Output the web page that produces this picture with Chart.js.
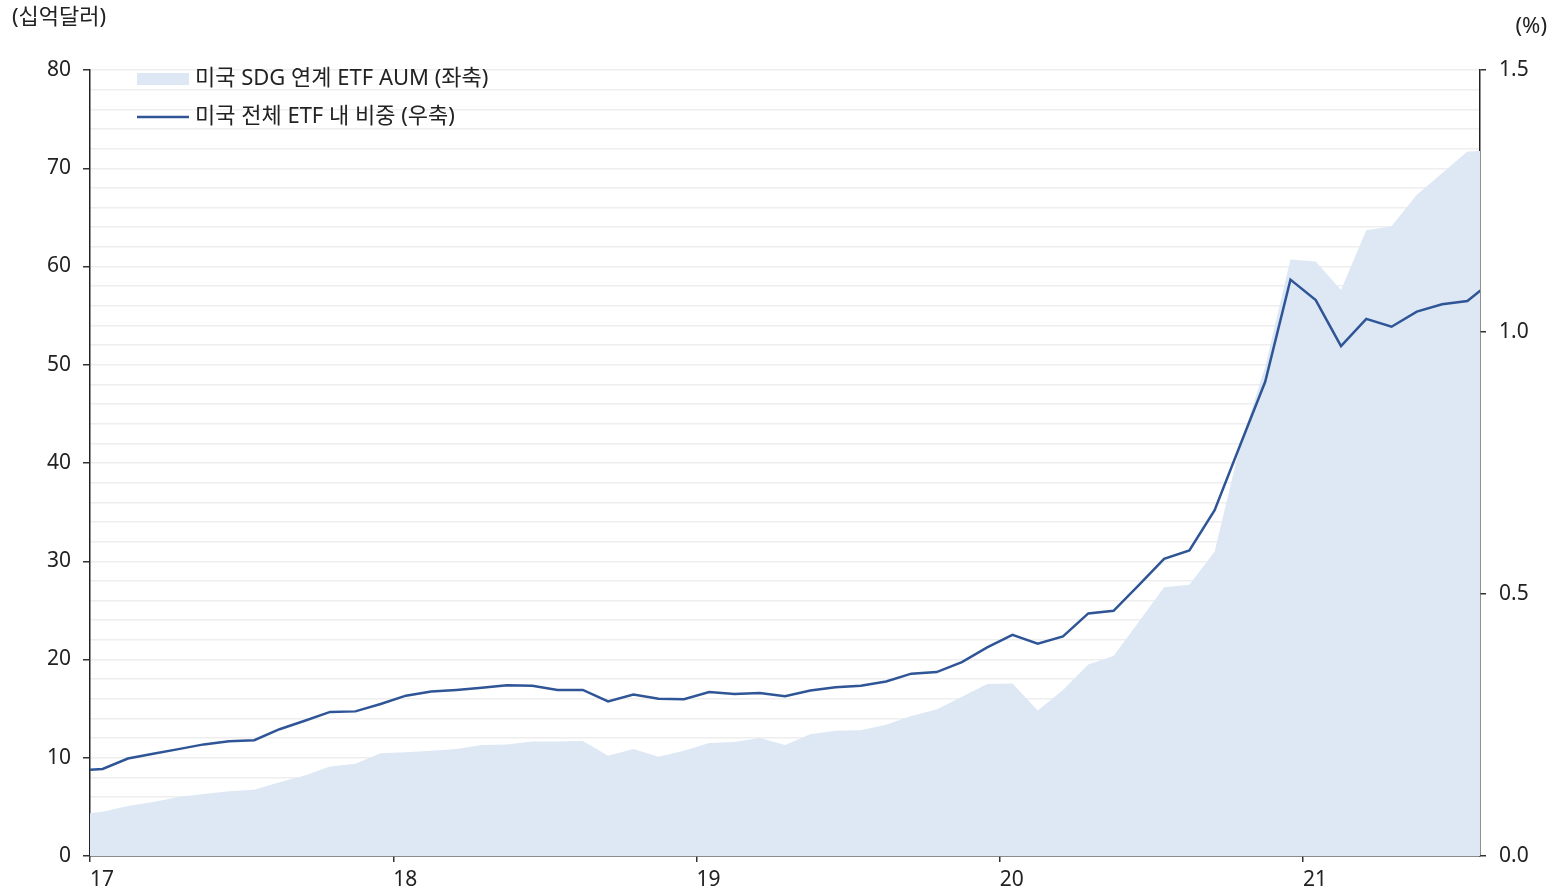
<!DOCTYPE html>
<html>
<head>
<meta charset="utf-8">
<script src="https://cdn.jsdelivr.net/npm/chart.js@4"></script>
<style>
  html, body { margin: 0; padding: 0; background: #fff; }
  #wrap { width: 1557px; height: 896px; }
</style>
</head>
<body>
<div id="wrap"><canvas id="etfChart" width="1557" height="896"></canvas></div>
<script>
// monthly observations (Dec 2016 and Aug 2021 sit just outside the visible axis)
const months = [
  '2016-12',
  '2017-01', '2017-02', '2017-03', '2017-04', '2017-05', '2017-06', '2017-07', '2017-08', '2017-09', '2017-10', '2017-11', '2017-12',
  '2018-01', '2018-02', '2018-03', '2018-04', '2018-05', '2018-06', '2018-07', '2018-08', '2018-09', '2018-10', '2018-11', '2018-12',
  '2019-01', '2019-02', '2019-03', '2019-04', '2019-05', '2019-06', '2019-07', '2019-08', '2019-09', '2019-10', '2019-11', '2019-12',
  '2020-01', '2020-02', '2020-03', '2020-04', '2020-05', '2020-06', '2020-07', '2020-08', '2020-09', '2020-10', '2020-11', '2020-12',
  '2021-01', '2021-02', '2021-03', '2021-04', '2021-05', '2021-06', '2021-07', '2021-08'
];

// 미국 SDG 연계 ETF AUM, 십억달러
const sdgAum = [
  4.2,
  4.5, 5.1, 5.5, 6.0, 6.3, 6.6, 6.75, 7.5, 8.2, 9.1, 9.4, 10.45,
  10.55, 10.7, 10.9, 11.3, 11.35, 11.65, 11.65, 11.7, 10.2, 10.9, 10.1, 10.7,
  11.5, 11.6, 12.0, 11.3, 12.4, 12.75, 12.8, 13.35, 14.25, 14.9, 16.2, 17.5,
  17.55, 14.8, 16.9, 19.5, 20.35, 23.85, 27.35, 27.6, 31.0, 41.7, 49.8, 60.7,
  60.5, 57.6, 63.7, 64.1, 67.3, 69.5, 71.7, 71.8
];

// 미국 전체 ETF 내 비중, %
const sdgShare = [
  0.163,
  0.166, 0.186, 0.195, 0.204, 0.213, 0.219, 0.221, 0.242, 0.258, 0.275, 0.276, 0.290,
  0.306, 0.314, 0.317, 0.321, 0.326, 0.325, 0.317, 0.317, 0.295, 0.308, 0.300, 0.299,
  0.313, 0.309, 0.311, 0.305, 0.316, 0.322, 0.325, 0.333, 0.348, 0.351, 0.370, 0.398,
  0.422, 0.405, 0.419, 0.463, 0.468, 0.517, 0.567, 0.583, 0.660, 0.783, 0.905, 1.100,
  1.061, 0.973, 1.025, 1.010, 1.039, 1.053, 1.059, 1.098
];

const yearLabels = ['17', '18', '19', '20', '21'];
const leftTicks = [0, 10, 20, 30, 40, 50, 60, 70, 80];
const rightTicks = [0.0, 0.5, 1.0, 1.5];

const seriesNames = ['미국 SDG 연계 ETF AUM (좌축)', '미국 전체 ETF 내 비중 (우축)'];
const leftUnit = '(십억달러)';
const rightUnit = '(%)';

const FONT = "'Noto Sans', 'Noto Sans CJK KR', sans-serif";
const TEXT = '#222222';
const LINE_BLUE = '#2f5597';
const AREA_BLUE = '#dde8f4';

// months since Jan 2017, each point sits in the middle of its month
function monthPos(m) {
    const [y, mo] = m.split('-').map(Number);
    return (y - 2017) * 12 + (mo - 1) + 0.5;
}

const aumPoints = months.map((m, i) => ({x: monthPos(m), y: sdgAum[i]}));
const sharePoints = months.map((m, i) => ({x: monthPos(m), y: sdgShare[i]}));

const cornerLegend = {
    id: 'cornerLegend',
    afterDraw(chart) {
        const ctx = chart.ctx;
        ctx.save();
        ctx.font = '22px ' + FONT;
        ctx.fillStyle = TEXT;
        ctx.textBaseline = 'middle';
        ctx.textAlign = 'left';

        // area sample
        ctx.fillStyle = AREA_BLUE;
        ctx.fillRect(137, 73, 52, 12);
        ctx.fillStyle = TEXT;
        ctx.fillText(chart.data.datasets[0].label, 195, 79);

        // line sample
        ctx.beginPath();
        ctx.moveTo(137, 117);
        ctx.lineTo(189, 117);
        ctx.strokeStyle = LINE_BLUE;
        ctx.lineWidth = 2.5;
        ctx.stroke();
        ctx.fillText(chart.data.datasets[1].label, 195, 117);

        // axis units
        ctx.font = '22px ' + FONT;
        ctx.fillText(leftUnit, 12, 18);
        ctx.textAlign = 'right';
        ctx.fillText(rightUnit, 1547, 27);
        ctx.restore();
    }
};

new Chart(document.getElementById('etfChart'), {
    type: 'line',
    data: {
        datasets: [
            {
                label: seriesNames[0],
                data: aumPoints,
                yAxisID: 'y',
                fill: 'origin',
                backgroundColor: AREA_BLUE,
                borderWidth: 0,
                pointRadius: 0,
                tension: 0,
                order: 1
            },
            {
                label: seriesNames[1],
                data: sharePoints,
                yAxisID: 'y1',
                fill: false,
                borderColor: LINE_BLUE,
                borderWidth: 2.5,
                pointRadius: 0,
                tension: 0,
                order: 0
            }
        ]
    },
    options: {
        responsive: false,
        animation: false,
        devicePixelRatio: 1,
        layout: {padding: {top: 70, left: 0, right: 0, bottom: 0}},
        plugins: {
            legend: {display: false},
            tooltip: {enabled: false}
        },
        scales: {
            x: {
                type: 'linear',
                min: 0,
                max: 55,
                afterBuildTicks: (scale) => {
                    scale.ticks = yearLabels.map((_, i) => ({value: i * 12}));
                },
                ticks: {
                    align: 'start',
                    maxRotation: 0,
                    autoSkip: false,
                    padding: 5,
                    color: TEXT,
                    font: {family: FONT, size: 21},
                    callback: (v) => yearLabels[Math.round(v / 12)]
                },
                grid: {drawOnChartArea: false, tickLength: 6, tickColor: '#333', lineWidth: 1.5},
                border: {color: '#222', width: 1.5},
                afterFit: (scale) => { scale.height = 40; }
            },
            y: {
                position: 'left',
                min: 0,
                max: 80,
                ticks: {
                    stepSize: 2,
                    autoSkip: false,
                    padding: 12,
                    color: TEXT,
                    font: {family: FONT, size: 21},
                    callback: (v) => leftTicks.includes(v) ? String(v) : ''
                },
                grid: {
                    color: '#eeeeee',
                    lineWidth: 1.5,
                    tickLength: 7,
                    tickColor: (c) => (c.tick && leftTicks.includes(c.tick.value)) ? '#333' : 'rgba(0,0,0,0)'
                },
                border: {color: '#222', width: 1.5},
                afterFit: (scale) => { scale.width = 90; }
            },
            y1: {
                position: 'right',
                min: 0,
                max: 1.5,
                afterBuildTicks: (scale) => {
                    scale.ticks = rightTicks.map(v => ({value: v}));
                },
                ticks: {
                    padding: 13,
                    color: TEXT,
                    font: {family: FONT, size: 21},
                    callback: (v) => v.toFixed(1)
                },
                grid: {drawOnChartArea: false, tickLength: 6, tickColor: '#333', lineWidth: 1.5},
                border: {color: '#222', width: 1.5},
                afterFit: (scale) => { scale.width = 77; }
            }
        }
    },
    plugins: [cornerLegend]
});
</script>
</body>
</html>
